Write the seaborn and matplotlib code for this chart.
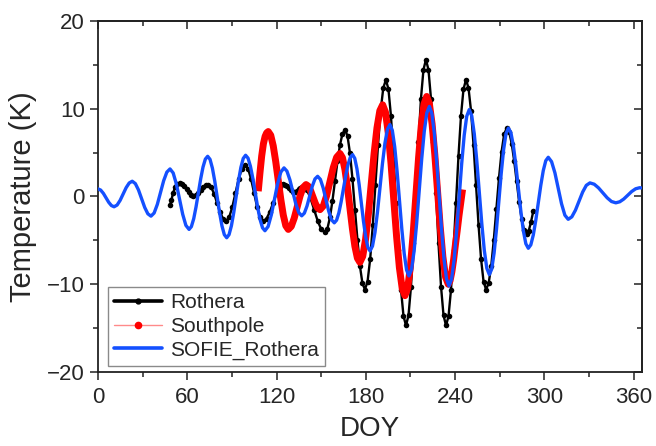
import matplotlib
matplotlib.use("Agg")
import matplotlib.pyplot as plt
import seaborn as sns
import pandas as pd
from matplotlib.lines import Line2D
from matplotlib.ticker import MultipleLocator

# ---------------- data ----------------
rothera_doy = [48.4, 49.3, 50.5, 51.8, 53.4,
               55, 56.5, 58, 59.5, 61, 62.5,
               64, 65.67, 67.33, 69, 70.67, 72.33,
               74, 76, 78, 80, 82, 84,
               86, 88.13, 90.27, 92.4, 94.53, 96.67,
               98.8, 100.83, 102.87, 104.9, 106.93, 108.97,
               111, 113.25, 115.5, 117.75, 120, 122.25,
               124.5, 125.75, 127, 128.25, 129.5, 130.75,
               132, 133, 134, 135, 136, 137,
               138, 140.42, 142.83, 145.25, 147.67, 150.08,
               152.5, 154.19, 155.88, 157.56, 159.25, 160.94, 162.63, 164.31,
               166, 167.68, 169.35, 171.03, 172.7, 174.38, 176.05, 177.73,
               179.4, 181.16, 182.93, 184.69, 186.45, 188.21, 189.98, 191.74,
               193.5, 195.19, 196.88, 198.56, 200.25, 201.94, 203.63, 205.31,
               207, 208.68, 210.35, 212.03, 213.7, 215.38, 217.05, 218.73,
               220.4, 222.09, 223.78, 225.46, 227.15, 228.84, 230.53, 232.21,
               233.9, 235.58, 237.25, 238.93, 240.6, 242.28, 243.95, 245.63,
               247.3, 248.99, 250.68, 252.36, 254.05, 255.74, 257.43, 259.11,
               260.8, 262.54, 264.28, 266.01, 267.75, 269.49, 271.23, 272.96,
               274.7, 276.36, 278.03, 279.69, 281.35, 283.01, 284.68, 286.34,
               288, 289.5, 291, 292.5]
rothera_t = [-1.0, -0.4, 0.4, 1.1, 1.45,
             1.55, 1.45, 1.19, 0.83, 0.46, 0.2,
             0.1, 0.18, 0.42, 0.73, 1.05, 1.28,
             1.36, 1.08, 0.32, -0.72, -1.76, -2.52,
             -2.8, -2.37, -1.2, 0.4, 2.0, 3.17,
             3.6, 3.17, 2.0, 0.4, -1.2, -2.37,
             -2.8, -2.52, -1.75, -0.7, 0.35, 1.12,
             1.4, 1.34, 1.18, 0.95, 0.73, 0.56,
             0.5, 0.54, 0.65, 0.8, 0.95, 1.06,
             1.1, 0.75, -0.2, -1.5, -2.8, -3.75,
             -4.1, -3.65, -2.39, -0.49, 1.75, 3.99, 5.89, 7.15,
             7.6, 6.91, 4.93, 1.98, -1.5, -4.98, -7.93, -9.91,
             -10.6, -9.69, -7.10, -3.22, 1.35, 5.92, 9.80, 12.39,
             13.3, 12.23, 9.20, 4.66, -0.7, -6.06, -10.60, -13.63,
             -14.7, -13.55, -10.26, -5.35, 0.45, 6.25, 11.16, 14.45,
             15.6, 14.45, 11.16, 6.25, 0.45, -5.35, -10.26, -13.55,
             -14.7, -13.63, -10.60, -6.06, -0.7, 4.66, 9.20, 12.23,
             13.3, 12.39, 9.80, 5.92, 1.35, -3.22, -7.10, -9.69,
             -10.6, -9.90, -7.91, -4.92, -1.4, 2.12, 5.11, 7.10,
             7.8, 7.34, 6.03, 4.07, 1.75, -0.57, -2.53, -3.84,
             -4.3, -3.9, -2.9, -1.7]

southpole_doy = [107.7, 108.85, 110.0, 111.15, 112.3, 113.35,
                 114.4, 116.09, 117.78, 119.46, 121.15, 122.84, 124.53, 126.21,
                 127.9, 129.88, 131.87, 133.85, 135.83, 137.82,
                 139.8, 141.37, 142.93, 144.5, 146.07, 147.63,
                 149.2, 151.43, 153.67, 155.9, 158.13, 160.37,
                 162.6, 164.28, 165.95, 167.63, 169.3, 170.98, 172.65, 174.33,
                 176, 177.91, 179.83, 181.74, 183.65, 185.56, 187.48, 189.39,
                 191.3, 193.18, 195.05, 196.93, 198.8, 200.68, 202.55, 204.43,
                 206.3, 208.13, 209.95, 211.78, 213.6, 215.43, 217.25, 219.08,
                 220.9, 222.71, 224.53, 226.34, 228.15, 229.96, 231.78, 233.59,
                 235.4, 236.6, 237.8, 239.0, 240.2, 241.4, 242.6, 243.8, 245]
southpole_t = [0.6, 2.7, 4.6, 6.0, 6.85, 7.25,
               7.4, 6.98, 5.77, 3.96, 1.83, -0.31, -2.12, -3.33,
               -3.75, -3.41, -2.47, -1.20, 0.08, 1.02,
               1.36, 1.17, 0.65, -0.07, -0.79, -1.31,
               -1.5, -1.07, 0.10, 1.7, 3.30, 4.47,
               4.9, 4.43, 3.08, 1.07, -1.3, -3.67, -5.68, -7.03,
               -7.5, -6.82, -4.87, -1.96, 1.48, 4.91, 7.82, 9.77,
               10.45, 9.62, 7.26, 3.74, -0.43, -4.59, -8.11, -10.47,
               -11.3, -10.44, -7.98, -4.29, 0.05, 4.39, 8.08, 10.54,
               11.4, 10.59, 8.27, 4.80, 0.7, -3.40, -6.87, -9.19,
               -10.0, -9.6, -8.6, -7.2, -5.5, -3.9, -2.2, -0.7, 0.8]

sofie_doy = [0, 1.8, 3.6, 5.4, 7.2, 9.0,
             10.8, 12.83, 14.87, 16.9, 18.93, 20.97,
             23, 25.1, 27.2, 29.3, 31.4, 33.5,
             35.6, 37.73, 39.87, 42.0, 44.13, 46.27,
             48.4, 50.53, 52.67, 54.8, 56.93, 59.07,
             61.2, 62.76, 64.33, 65.89, 67.45, 69.01, 70.58, 72.14,
             73.7, 75.3, 76.9, 78.5, 80.1, 81.7, 83.3, 84.9,
             86.5, 88.09, 89.68, 91.26, 92.85, 94.44, 96.03, 97.61,
             99.2, 100.83, 102.45, 104.08, 105.7, 107.33, 108.95, 110.58,
             112.2, 114.33, 116.47, 118.6, 120.73, 122.87,
             125, 126.98, 128.97, 130.95, 132.93, 134.92,
             136.9, 138.68, 140.47, 142.25, 144.03, 145.82,
             147.6, 149.47, 151.33, 153.2, 155.07, 156.93,
             158.8, 160.34, 161.88, 163.41, 164.95, 166.49, 168.03, 169.56,
             171.1, 172.56, 174.03, 175.49, 176.95, 178.41, 179.88, 181.34,
             182.8, 184.48, 186.15, 187.83, 189.5, 191.18, 192.85, 194.53,
             196.2, 197.8, 199.4, 201.0, 202.6, 204.2, 205.8, 207.4,
             209, 210.71, 212.43, 214.14, 215.85, 217.56, 219.28, 220.99,
             222.7, 224.35, 226.0, 227.65, 229.3, 230.95, 232.6, 234.25,
             235.9, 237.6, 239.3, 241.0, 242.7, 244.4, 246.1, 247.8,
             249.5, 251.19, 252.88, 254.56, 256.25, 257.94, 259.63, 261.31,
             263, 264.6, 266.2, 267.8, 269.4, 271.0, 272.6, 274.2,
             275.8, 277.48, 279.15, 280.83, 282.5, 284.18, 285.85, 287.53,
             289.2, 290.88, 292.55, 294.23, 295.9, 297.58, 299.25, 300.93,
             302.6, 304.83, 307.07, 309.3, 311.53, 313.77,
             316, 318.43, 320.87, 323.3, 325.73, 328.17,
             330.6, 333.5, 336.4, 339.3, 342.2, 345.1,
             348, 350.67, 353.33, 356, 358.67, 361.33, 364, 365]
sofie_t = [0.87, 0.73, 0.36, -0.15, -0.66, -1.03,
           -1.17, -0.975, -0.44, 0.29, 1.01, 1.54,
           1.74, 1.47, 0.75, -0.25, -1.25, -1.97,
           -2.24, -1.88, -0.90, 0.45, 1.80, 2.78,
           3.14, 2.68, 1.42, -0.31, -2.03, -3.29,
           -3.75, -3.43, -2.53, -1.18, 0.42, 2.01, 3.36, 4.26,
           4.58, 4.23, 3.22, 1.72, -0.06, -1.84, -3.34, -4.35,
           -4.7, -4.34, -3.32, -1.80, 0.0, 1.80, 3.32, 4.34,
           4.7, 4.37, 3.44, 2.05, 0.4, -1.25, -2.64, -3.57,
           -3.9, -3.42, -2.11, -0.32, 1.47, 2.78,
           3.26, 2.89, 1.90, 0.53, -0.84, -1.83,
           -2.2, -1.90, -1.08, 0.05, 1.18, 2.0,
           2.3, 1.95, 0.98, -0.35, -1.68, -2.65,
           -3.0, -2.70, -1.86, -0.60, 0.89, 2.37, 3.63, 4.47,
           4.77, 4.35, 3.16, 1.38, -0.72, -2.81, -4.59, -5.78,
           -6.2, -5.65, -4.09, -1.76, 1.0, 3.76, 6.09, 7.65,
           8.2, 7.54, 5.67, 2.88, -0.43, -3.73, -6.52, -8.39,
           -9.05, -8.32, -6.22, -3.09, 0.61, 4.30, 7.43, 9.53,
           10.26, 9.48, 7.26, 3.95, 0.03, -3.89, -7.20, -9.42,
           -10.2, -9.44, -7.26, -4.0, -0.15, 3.70, 6.96, 9.14,
           9.9, 9.19, 7.15, 4.10, 0.5, -3.10, -6.15, -8.18,
           -8.9, -8.27, -6.45, -3.75, -0.55, 2.65, 5.35, 7.16,
           7.8, 7.28, 5.79, 3.57, 0.95, -1.67, -3.89, -5.38,
           -5.9, -5.51, -4.38, -2.70, -0.72, 1.27, 2.95, 4.08,
           4.47, 3.97, 2.70, 0.94, -0.83, -2.13,
           -2.6, -2.32, -1.56, -0.53, 0.51, 1.27,
           1.55, 1.40, 0.98, 0.42, -0.15, -0.57,
           -0.72, -0.60, -0.29, 0.14, 0.57, 0.88, 1.0, 0.98]

series_names = ["Rothera", "Southpole", "SOFIE_Rothera"]
x_ticks = [0, 60, 120, 180, 240, 300, 360]
y_ticks = [-20, -10, 0, 10, 20]

# ---------------- styling ----------------
sns.set_style("ticks")
plt.rcParams['font.family'] = ['Liberation Sans', 'DejaVu Sans']

BLUE = '#1450ff'
RED = '#ff0000'
AXC = '#222222'

fig = plt.figure(figsize=(6.56, 4.46), dpi=100)
ax = fig.add_axes([98 / 656, 1 - 372 / 446, (641.7 - 98) / 656, (372 - 21) / 446])

rot = pd.DataFrame({"DOY": rothera_doy, "T": rothera_t})
sp = pd.DataFrame({"DOY": southpole_doy, "T": southpole_t})
so = pd.DataFrame({"DOY": sofie_doy, "T": sofie_t})

sns.lineplot(data=rot, x="DOY", y="T", ax=ax, color='black', linewidth=1.7,
             marker='o', markersize=4.0, markeredgewidth=0, sort=False,
             estimator=None, legend=False, zorder=2)
sns.lineplot(data=sp, x="DOY", y="T", ax=ax, color=RED, linewidth=5.0,
             sort=False, estimator=None, legend=False, zorder=3,
             solid_capstyle='butt', solid_joinstyle='round')
sns.lineplot(data=so, x="DOY", y="T", ax=ax, color=BLUE, linewidth=2.4,
             sort=False, estimator=None, legend=False, zorder=4,
             solid_joinstyle='round')

ax.set_xlim(0, 365.4)
ax.set_ylim(-20, 20)
ax.set_xticks(x_ticks)
ax.set_yticks(y_ticks)
ax.xaxis.set_minor_locator(MultipleLocator(30))
ax.yaxis.set_minor_locator(MultipleLocator(5))
ax.tick_params(axis='both', which='major', direction='out', length=6, width=1.1,
               labelsize=16, pad=3.5, color=AXC)
ax.tick_params(axis='x', which='major', pad=4.5)
ax.tick_params(axis='both', which='minor', direction='out', length=3.5, width=1.1,
               color=AXC)

for s in ax.spines.values():
    s.set_visible(True)
    s.set_linewidth(1.3)
    s.set_color(AXC)

# inward ticks on top and right
secx = ax.secondary_xaxis('top')
secx.set_xticks(x_ticks)
secx.xaxis.set_minor_locator(MultipleLocator(30))
secx.tick_params(which='major', direction='in', length=6, width=1.1, labeltop=False, color=AXC)
secx.tick_params(which='minor', direction='in', length=3.5, width=1.1, color=AXC)
secx.spines['top'].set_linewidth(1.3)
secx.spines['top'].set_color(AXC)
secy = ax.secondary_yaxis('right')
secy.set_yticks(y_ticks)
secy.yaxis.set_minor_locator(MultipleLocator(5))
secy.tick_params(which='major', direction='in', length=6, width=1.1, labelright=False, color=AXC)
secy.tick_params(which='minor', direction='in', length=3.5, width=1.1, color=AXC)
secy.spines['right'].set_linewidth(1.3)
secy.spines['right'].set_color(AXC)

ax.set_xlabel("DOY", fontsize=20, labelpad=6)
ax.set_ylabel("Temperature (K)", fontsize=21, labelpad=7)

handles = [
    Line2D([], [], color='black', linewidth=2.6, marker='o', markersize=3.5),
    Line2D([], [], color='#ff8a8a', linewidth=1.0, marker='o', markersize=4.5,
           markerfacecolor=RED, markeredgecolor=RED),
    Line2D([], [], color=BLUE, linewidth=2.6),
]
leg = ax.legend(handles, series_names, loc='lower left', bbox_to_anchor=(0.018, 0.017),
                borderaxespad=0, fontsize=15, frameon=True, fancybox=False,
                edgecolor='#8a8a8a', framealpha=1, handlelength=2.3, handletextpad=0.4,
                labelspacing=0.22, borderpad=0.3)
leg.get_frame().set_linewidth(1.0)

fig.savefig("out.png", dpi=100)
